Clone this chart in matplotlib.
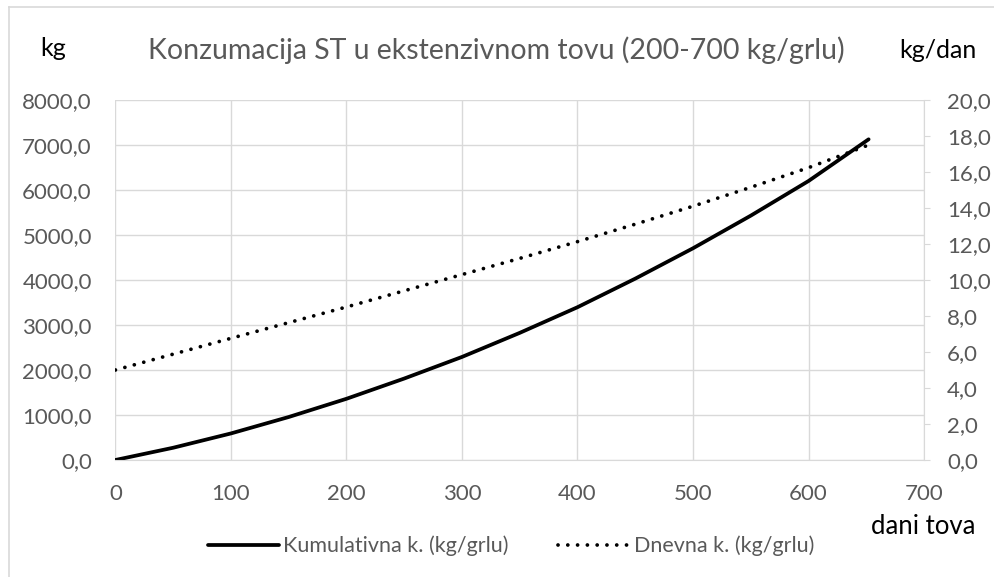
import numpy as np
import matplotlib.pyplot as plt
from matplotlib.ticker import FuncFormatter, MultipleLocator
from matplotlib.lines import Line2D

plt.rcParams['font.family'] = ['Lato', 'DejaVu Sans']

# dani tova
dani = [0, 50, 100, 150, 200, 250, 300, 350, 400, 450, 500, 550, 600, 652]
# kumulativna konzumacija (kg/grlu)
kumulativna = [0, 272, 590, 955, 1360, 1810, 2290, 2825, 3395, 4030, 4705, 5430, 6200, 7126]
# dnevna konzumacija (kg/grlu)
dnevna = [5.0, 5.88, 6.76, 7.63, 8.5, 9.4, 10.3, 11.2, 12.13, 13.1, 14.1, 15.15, 16.24, 17.5]

grey = "#595959"
gridc = "#d9d9d9"

fig = plt.figure(figsize=(9.95, 5.77), dpi=100)
# okvir grafikona (vidi se samo gore i lijevo)
fig.add_artist(Line2D([9 / 995, 9 / 995], [0, 1 - 7 / 577], color=gridc, lw=1.2))
fig.add_artist(Line2D([9 / 995, 1], [1 - 7 / 577, 1 - 7 / 577], color=gridc, lw=1.2))

ax1 = fig.add_axes([0.116, 0.2028, 0.8127, 0.6239])
ax2 = ax1.twinx()

ax1.plot(dani, kumulativna, color="black", linewidth=2.7, solid_capstyle="round",
         label="Kumulativna k. (kg/grlu)")
ax2.plot(dani, dnevna, color="black", linewidth=2.7, linestyle=(0, (0.01, 2.6)),
         dash_capstyle="round", label="Dnevna k. (kg/grlu)")

ax1.set_xlim(0, 700)
ax1.set_ylim(0, 8000)
ax2.set_ylim(0, 20)
ax1.xaxis.set_major_locator(MultipleLocator(100))
ax1.yaxis.set_major_locator(MultipleLocator(1000))
ax2.yaxis.set_major_locator(MultipleLocator(2))

fmt = FuncFormatter(lambda v, p: f"{v:.1f}".replace(".", ","))
ax1.yaxis.set_major_formatter(fmt)
ax2.yaxis.set_major_formatter(fmt)

ax1.grid(True, color=gridc, linewidth=1)
ax1.set_axisbelow(True)
for ax in (ax1, ax2):
    for s in ax.spines.values():
        s.set_visible(False)
ax2.spines["right"].set_visible(True)
ax2.spines["right"].set_color(gridc)
ax1.spines["bottom"].set_visible(True)
ax1.spines["bottom"].set_color(gridc)

ax1.tick_params(axis="y", length=0, labelsize=16, labelcolor=grey, pad=17)
ax1.tick_params(axis="x", length=0, labelsize=16, labelcolor=grey, pad=17)
ax2.tick_params(axis="y", length=4.5, color=gridc, labelsize=16, labelcolor=grey, pad=12)

fig.text(53 / 995, 1 - 48 / 577, "kg", fontsize=18, color="black", ha="center", va="center")
fig.text(938 / 995, 1 - 50 / 577, "kg/dan", fontsize=18, color="black", ha="center", va="center")
fig.text(496 / 995, 1 - 50 / 577, "Konzumacija ST u ekstenzivnom tovu (200-700 kg/grlu)",
         fontsize=20.5, color=grey, ha="center", va="center")
fig.text(923 / 995, 1 - 527 / 577, "dani tova", fontsize=18.5, color="black", ha="center", va="center")

h1, l1 = ax1.get_legend_handles_labels()
h2, l2 = ax2.get_legend_handles_labels()
fig.legend(h1 + h2, l1 + l2, loc="center", bbox_to_anchor=(511 / 995, 1 - 546 / 577), ncol=2,
           frameon=False, fontsize=15.5, labelcolor=grey, handlelength=3.3,
           handletextpad=0.2, columnspacing=2.3)

fig.savefig("out.png", dpi=100)
